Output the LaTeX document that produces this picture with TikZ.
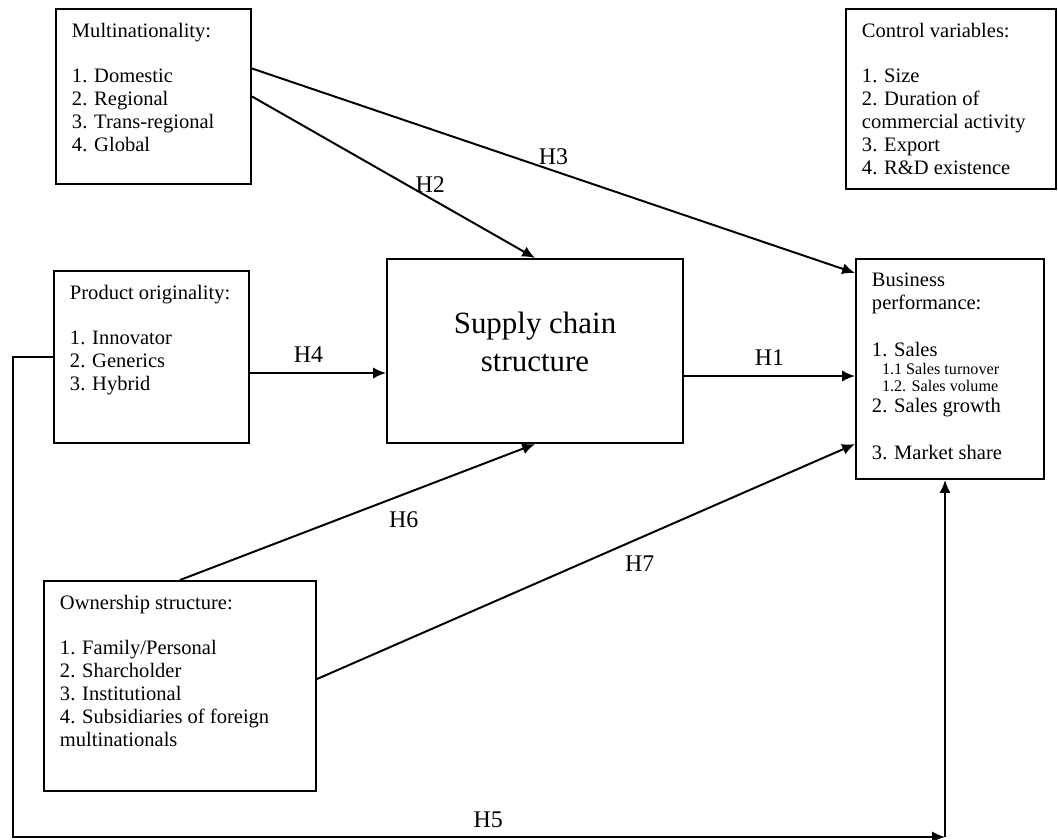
\documentclass[tikz,border=0pt]{standalone}
\usepackage{fontspec}
\setmainfont{Liberation Serif}
\usetikzlibrary{arrows.meta}

\tikzset{
  box/.style={draw, line width=1.4pt, anchor=north west, inner xsep=0.4cm, inner ysep=0.35cm,
    font=\fontsize{14.6}{16.4}\selectfont},
  hyp/.style={font=\fontsize{17}{20}\selectfont},
  link/.style={->, line width=1.4pt},
}
\newcommand{\boxtext}[3]{\parbox[t][#1][t]{#2}{\raggedright #3}}
\newcommand{\bpsmall}{\fontsize{11.5}{12.5}\selectfont}

\begin{document}
\begin{tikzpicture}[x=0.025cm, y=-0.025cm, >={Latex[length=0.32cm,width=0.28cm]}]
\useasboundingbox (0,0) rectangle (1058,840);

% boxes
\node[box] (mult) at (55,8) {\boxtext{3.675cm}{4.075cm}{Multinationality:\\[0.55cm]
  1. Domestic\\ 2. Regional\\ 3. Trans-regional\\ 4. Global}};
\node[box] (ctrl) at (845,8) {\boxtext{3.8cm}{4.45cm}{Control variables:\\[0.55cm]
  1. Size\\ 2. Duration of\\ commercial activity\\ 3. Export\\ 4. R\&D existence}};
\node[box] (po) at (53,270) {\boxtext{3.6cm}{4.075cm}{Product originality:\\[0.55cm]
  1. Innovator\\ 2. Generics\\ 3. Hybrid}};
\node[box, font=\fontsize{22}{26.5}\selectfont] (scs) at (386,258)
  {\parbox[c][3.9cm][c]{6.6cm}{\centering Supply chain\\ structure\par\vspace{0.45cm}}};
\node[box] (bp) at (855,258) {\boxtext{4.8cm}{3.9cm}{Business\\ performance:\\[0.6cm]
  1. Sales\\[-0.12cm]
  \hspace*{0.25cm}{\bpsmall 1.1 Sales turnover}\\[-0.17cm]
  \hspace*{0.25cm}{\bpsmall 1.2. Sales volume}\\[-0.05cm]
  2. Sales growth\\[0.6cm]
  3. Market share}};
\node[box] (own) at (43,580) {\boxtext{4.55cm}{6.0cm}{Ownership structure:\\[0.55cm]
  1. Family/Personal\\ 2. Sharcholder\\ 3. Institutional\\ 4. Subsidiaries of foreign\\ multinationals}};

% hypotheses
\draw[link] ([yshift=0.7cm]mult.east) -- node[hyp, pos=0.5, above] (h3) {H3} ([yshift=-0.375cm]bp.north west);
\draw[link] (mult.east) -- node[hyp, pos=0.63, above] (h2) {H2} (scs.north);
\draw[link] ([yshift=-0.4cm]po.east) coordinate (h4start) -- node[hyp, pos=0.43, above=0.12cm] (h4) {H4} (h4start -| scs.west);
\draw[link] ([yshift=-0.625cm]scs.east) coordinate (h1start) -- node[hyp, above=0.12cm] (h1) {H1} (h1start -| bp.west);
\draw[link] (own.north) -- node[hyp, pos=0.63, below=0.3cm] (h6) {H6} (scs.south);
\draw[link] ([yshift=0.175cm]own.east) -- node[hyp, pos=0.6, below=0.3cm] (h7) {H7} ([yshift=0.9cm]bp.south west);

\coordinate (turnleft) at (13,837);
\coordinate (turnright) at (945,837);
\draw[link] (po.west) -| (turnleft) -- node[hyp, pos=0.51, above=0.1cm] (h5) {H5} (turnright);
\draw[link] (turnright) -- (turnright |- bp.south);
\end{tikzpicture}
\end{document}
